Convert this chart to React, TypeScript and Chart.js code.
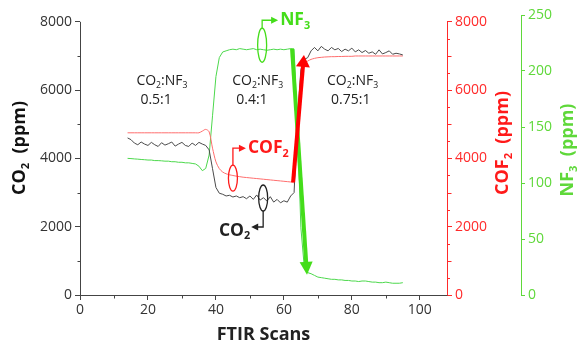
import React, { useEffect, useRef } from 'react';
import { Chart, registerables } from 'chart.js';

Chart.register(...registerables);

// ---------------- data ----------------
const scans = [
  14, 15, 16, 17, 18, 19, 20, 21, 22, 23, 24, 25, 26, 27, 28, 29, 30, 31, 32, 33,
  34, 35, 36, 37, 38, 39, 40, 41, 42, 43, 44, 45, 46, 47, 48, 49, 50, 51, 52, 53,
  54, 55, 56, 57, 58, 59, 60, 61, 62, 63, 64, 65, 66, 67, 68, 69, 70, 71, 72, 73,
  74, 75, 76, 77, 78, 79, 80, 81, 82, 83, 84, 85, 86, 87, 88, 89, 90, 91, 92, 93,
  94, 95,
];

const co2Ppm = [
  4600, 4550, 4450, 4400, 4480, 4420, 4380, 4470, 4400, 4350, 4460, 4390, 4430, 4480, 4360, 4420, 4470, 4380, 4350, 4450,
  4380, 4470, 4420, 4380, 4250, 3700, 3150, 2980, 2950, 2900, 2920, 2870, 2900, 2850, 2880, 2820, 2900, 2800, 2930, 2780,
  2850, 2750, 2880, 2720, 2800, 2700, 2760, 2720, 2900, 3000, 5200, 6600, 6900, 6950, 7150, 7250, 7150, 7280, 7200, 7150,
  7250, 7180, 7220, 7130, 7200, 7150, 7230, 7120, 7180, 7100, 7160, 7080, 7120, 7050, 7180, 7060, 7100, 7150, 7050, 7080,
  7060, 7030,
];

const cof2Ppm = [
  4750, 4750, 4750, 4750, 4750, 4750, 4750, 4750, 4750, 4750, 4750, 4750, 4750, 4750, 4750, 4750, 4750, 4750, 4750, 4750,
  4750, 4750, 4800, 4850, 4780, 4300, 3900, 3700, 3600, 3550, 3520, 3500, 3480, 3465, 3450, 3440, 3430, 3420, 3410, 3400,
  3390, 3380, 3370, 3360, 3350, 3340, 3330, 3320, 3310, 3300, 4800, 6200, 6750, 6850, 6900, 6930, 6950, 6960, 6970, 6975,
  6980, 6980, 6985, 6985, 6990, 6990, 6990, 7000, 7000, 7000, 7000, 7000, 7000, 7000, 7000, 7000, 7000, 7000, 7000, 7000,
  7000, 7000,
];

const nf3Ppm = [
  122, 121.8, 121.5, 121.3, 121, 120.8, 120.5, 120.5, 120, 120, 119.8, 119.5, 119.5, 119, 119, 118.5, 118.5, 118, 118, 117.5,
  117, 115, 111, 113, 125, 160, 195, 212, 217, 218, 219, 219.5, 219, 220, 219.5, 219, 219.5, 220, 219, 219.5,
  219, 218.5, 219, 219.5, 219, 219.5, 219, 219.5, 220, 219.5, 150, 60, 25, 20, 19, 17.5, 16, 15.5, 15, 14.5,
  14, 14, 13.5, 13.5, 13, 13, 12.5, 12.5, 12, 12.5, 12.5, 12, 11.5, 11.5, 11, 11, 11.5, 11, 10.5, 10.5,
  10.5, 11,
];

const xTicks = [0, 20, 40, 60, 80, 100];
const xMinorTicks = [10, 30, 50, 70, 90];
const leftTicks = [0, 2000, 4000, 6000, 8000];
const leftMinorTicks = [1000, 3000, 5000, 7000];
const redTicks = [0, 2000, 4000, 6000, 8000];
const redMidTicks = [1000, 3000, 5000, 7000];
const redMinorTicks = [500, 1500, 2500, 3500, 4500, 5500, 6500, 7500];
const greenTicks = [0, 50, 100, 150, 200, 250];

const ratioLabels = ['0.5:1', '0.4:1', '0.75:1'];
const ratioScans = [16.6, 44.8, 72.7];
const ratioPpm = 6000;

// ---------------- styles ----------------
const FONT = "'Open Sans', 'DejaVu Sans', sans-serif";
const AXIS_DARK = '#444444';
const TEXT_DARK = '#333333';
const RED = '#ff2a2a';
const RED_LINE = '#ff6e6e';
const GREEN = '#5fd83a';
const GREEN_LINE = '#4cd84c';
const GREEN_ARROW = '#44dd1a';

type Part = { t: string; sub?: boolean };

function richWidth(ctx: CanvasRenderingContext2D, parts: Part[], size: number, weight: string) {
  let w = 0;
  for (const p of parts) {
    const s = p.sub ? size * 0.62 : size;
    ctx.font = `${weight} ${s}px ${FONT}`;
    w += ctx.measureText(p.t).width;
  }
  return w;
}

function drawRich(
  ctx: CanvasRenderingContext2D,
  parts: Part[],
  x: number,
  y: number,
  size: number,
  weight: string,
  color: string,
  align: 'left' | 'center' | 'right'
) {
  const w = richWidth(ctx, parts, size, weight);
  let cx = align === 'left' ? x : align === 'center' ? x - w / 2 : x - w;
  ctx.fillStyle = color;
  ctx.textAlign = 'left';
  ctx.textBaseline = 'middle';
  for (const p of parts) {
    const s = p.sub ? size * 0.62 : size;
    ctx.font = `${weight} ${s}px ${FONT}`;
    ctx.fillText(p.t, cx, p.sub ? y + size * 0.3 : y);
    cx += ctx.measureText(p.t).width;
  }
}

function drawArrow(
  ctx: CanvasRenderingContext2D,
  x1: number,
  y1: number,
  x2: number,
  y2: number,
  color: string,
  width: number,
  headLen: number,
  headW: number
) {
  const dx = x2 - x1;
  const dy = y2 - y1;
  const len = Math.hypot(dx, dy);
  const ux = dx / len;
  const uy = dy / len;
  const bx = x2 - ux * headLen;
  const by = y2 - uy * headLen;
  ctx.strokeStyle = color;
  ctx.lineWidth = width;
  ctx.lineCap = 'butt';
  ctx.beginPath();
  ctx.moveTo(x1, y1);
  ctx.lineTo(bx + ux * 1, by + uy * 1);
  ctx.stroke();
  ctx.fillStyle = color;
  ctx.beginPath();
  ctx.moveTo(x2, y2);
  ctx.lineTo(bx - uy * headW / 2, by + ux * headW / 2);
  ctx.lineTo(bx + uy * headW / 2, by - ux * headW / 2);
  ctx.closePath();
  ctx.fill();
}

const decorPlugin = {
  id: 'decor',
  afterDraw(chart: any) {
    const ctx: CanvasRenderingContext2D = chart.ctx;
    const sx = chart.scales.x;
    const sy = chart.scales.y;
    const sr = chart.scales.yRed;
    const sg = chart.scales.yGreen;
    ctx.save();

    // axis lines for left and red axes (0 .. 8000)
    const lx = Math.round(sy.right) + 0.5;
    ctx.lineWidth = 1;
    ctx.strokeStyle = AXIS_DARK;
    ctx.beginPath();
    ctx.moveTo(lx, sy.getPixelForValue(0) + 0.5);
    ctx.lineTo(lx, sy.getPixelForValue(8000));
    ctx.stroke();
    const rx = Math.round(sr.left) + 0.5;
    ctx.strokeStyle = RED;
    ctx.beginPath();
    ctx.moveTo(rx, sr.getPixelForValue(0) + 0.5);
    ctx.lineTo(rx, sr.getPixelForValue(8000));
    ctx.stroke();

    // minor ticks
    ctx.strokeStyle = AXIS_DARK;
    for (const v of leftMinorTicks) {
      const py = Math.round(sy.getPixelForValue(v)) + 0.5;
      ctx.beginPath();
      ctx.moveTo(lx - 3, py);
      ctx.lineTo(lx, py);
      ctx.stroke();
    }
    const bottomY = Math.round(sx.top) + 0.5;
    for (const v of xMinorTicks) {
      const px = Math.round(sx.getPixelForValue(v)) + 0.5;
      ctx.beginPath();
      ctx.moveTo(px, bottomY);
      ctx.lineTo(px, bottomY + 3);
      ctx.stroke();
    }
    ctx.strokeStyle = RED;
    for (const v of redMidTicks) {
      const py = Math.round(sr.getPixelForValue(v)) + 0.5;
      ctx.beginPath();
      ctx.moveTo(rx, py);
      ctx.lineTo(rx + 4, py);
      ctx.stroke();
    }
    for (const v of redMinorTicks) {
      const py = Math.round(sr.getPixelForValue(v)) + 0.5;
      ctx.beginPath();
      ctx.moveTo(rx, py);
      ctx.lineTo(rx + 2.5, py);
      ctx.stroke();
    }

    // ratio labels
    ratioLabels.forEach((r, i) => {
      const px = sx.getPixelForValue(ratioScans[i]);
      const py = sy.getPixelForValue(ratioPpm);
      drawRich(ctx, [{ t: 'CO' }, { t: '2', sub: true }, { t: ':NF' }, { t: '3', sub: true }], px, py - 9, 14, 'normal', '#222222', 'left');
      drawRich(ctx, [{ t: r }], px + 4, py + 10, 14, 'normal', '#222222', 'left');
    });

    // big arrows (data anchored)
    drawArrow(
      ctx,
      sx.getPixelForValue(62.4), sg.getPixelForValue(220),
      sx.getPixelForValue(66.8), sg.getPixelForValue(18),
      GREEN_ARROW, 4, 13, 13
    );
    drawArrow(
      ctx,
      sx.getPixelForValue(62.7), sr.getPixelForValue(3300),
      sx.getPixelForValue(65.9), sr.getPixelForValue(7030),
      '#ff0000', 4, 12, 14
    );

    // callouts
    const callout = (
      cx: number, cy: number, ry: number, color: string, dir: 'up' | 'down',
      legV: number, legH: number, parts: Part[]
    ) => {
      ctx.strokeStyle = color;
      ctx.lineWidth = 1.3;
      ctx.beginPath();
      ctx.ellipse(cx, cy, 4.5, ry, 0, 0, Math.PI * 2);
      ctx.stroke();
      const sy0 = dir === 'up' ? cy - ry : cy + ry;
      const sy1 = dir === 'up' ? sy0 - legV : sy0 + legV;
      const ex = cx + legH;
      ctx.beginPath();
      ctx.moveTo(cx, sy0);
      ctx.lineTo(cx, sy1);
      ctx.lineTo(ex - Math.sign(legH) * 5, sy1);
      ctx.stroke();
      ctx.fillStyle = color;
      ctx.beginPath();
      ctx.moveTo(ex, sy1);
      ctx.lineTo(ex - Math.sign(legH) * 7, sy1 - 3.5);
      ctx.lineTo(ex - Math.sign(legH) * 7, sy1 + 3.5);
      ctx.closePath();
      ctx.fill();
      if (legH > 0) {
        drawRich(ctx, parts, ex + 2, sy1, 17.5, 'bold', color, 'left');
      } else {
        drawRich(ctx, parts, ex - 1, sy1 + 4, 17.5, 'bold', color, 'right');
      }
    };
    callout(sx.getPixelForValue(53.6), sg.getPixelForValue(223), 17, GREEN_ARROW, 'up', 8, 16,
      [{ t: 'NF' }, { t: '3', sub: true }]);
    callout(sx.getPixelForValue(45.0), sr.getPixelForValue(3420), 13, '#ff1a1a', 'up', 17, 13,
      [{ t: 'COF' }, { t: '2', sub: true }]);
    callout(sx.getPixelForValue(53.9), sy.getPixelForValue(2840), 13, '#222222', 'down', 16, -12,
      [{ t: 'CO' }, { t: '2', sub: true }]);

    // axis titles
    const rot = (cx: number, cy: number, parts: Part[], color: string) => {
      ctx.save();
      ctx.translate(cx, cy);
      ctx.rotate(-Math.PI / 2);
      drawRich(ctx, parts, 0, 0, 18, 'bold', color, 'center');
      ctx.restore();
    };
    rot(20, 148, [{ t: 'CO' }, { t: '2', sub: true }, { t: '  (ppm)' }], '#111111');
    rot(503, 143, [{ t: 'COF' }, { t: '2', sub: true }, { t: '  (ppm)' }], '#ff1a1a');
    rot(568, 150, [{ t: 'NF' }, { t: '3', sub: true }, { t: '  (ppm)' }], GREEN);
    drawRich(ctx, [{ t: 'FTIR Scans' }], 263.5, 335, 18, 'bold', '#222222', 'center');

    ctx.restore();
  },
};

const plain = (v: any) => String(v);

export default function App() {
  const canvasRef = useRef<HTMLCanvasElement | null>(null);

  useEffect(() => {
    if (!canvasRef.current) return;
    const tickFont = { family: FONT, size: 14 };
    const chart = new Chart(canvasRef.current, {
      type: 'line',
      data: {
        datasets: [
          {
            label: 'CO2',
            data: scans.map((x, i) => ({ x, y: co2Ppm[i] })),
            yAxisID: 'y',
            borderColor: '#4a4a4a',
            borderWidth: 1,
            pointRadius: 0,
            tension: 0,
          },
          {
            label: 'COF2',
            data: scans.map((x, i) => ({ x, y: cof2Ppm[i] })),
            yAxisID: 'yRed',
            borderColor: RED_LINE,
            borderWidth: 1,
            pointRadius: 0,
            tension: 0.3,
          },
          {
            label: 'NF3',
            data: scans.map((x, i) => ({ x, y: nf3Ppm[i] })),
            yAxisID: 'yGreen',
            borderColor: GREEN_LINE,
            borderWidth: 1,
            pointRadius: 0,
            tension: 0,
          },
        ],
      },
      options: {
        animation: false,
        responsive: true,
        maintainAspectRatio: false,
        layout: { padding: { top: 15, left: 0, right: 0, bottom: 0 } },
        plugins: { legend: { display: false }, tooltip: { enabled: false } },
        scales: {
          x: {
            type: 'linear',
            position: 'bottom',
            min: 0,
            max: 108,
            afterFit: (s: any) => { s.height = 54; },
            afterBuildTicks: (s: any) => { s.ticks = xTicks.map((v) => ({ value: v })); },
            ticks: { color: TEXT_DARK, font: tickFont, padding: 2, autoSkip: false, maxRotation: 0, callback: plain },
            grid: { display: true, drawOnChartArea: false, drawTicks: true, tickLength: 5, tickColor: AXIS_DARK, color: AXIS_DARK },
            border: { display: true, color: AXIS_DARK, width: 1 },
          },
          y: {
            position: 'left',
            min: 0,
            max: 8200,
            afterFit: (s: any) => { s.width = 80; },
            afterBuildTicks: (s: any) => { s.ticks = leftTicks.map((v) => ({ value: v })); },
            ticks: { color: TEXT_DARK, font: tickFont, padding: 3, autoSkip: false, callback: plain },
            grid: { display: true, drawOnChartArea: false, drawTicks: true, tickLength: 5, tickColor: AXIS_DARK, color: AXIS_DARK },
            border: { display: false },
          },
          yRed: {
            position: 'right',
            weight: 0,
            min: 0,
            max: 8200,
            afterFit: (s: any) => { s.width = 74; },
            afterBuildTicks: (s: any) => { s.ticks = redTicks.map((v) => ({ value: v })); },
            ticks: { color: RED, font: tickFont, padding: 3, autoSkip: false, callback: plain },
            grid: { display: true, drawOnChartArea: false, drawTicks: true, tickLength: 5, tickColor: RED, color: RED },
            border: { display: false },
          },
          yGreen: {
            position: 'right',
            weight: 1,
            min: 0,
            max: 250,
            afterFit: (s: any) => { s.width = 56; },
            afterBuildTicks: (s: any) => { s.ticks = greenTicks.map((v) => ({ value: v })); },
            ticks: { color: GREEN, font: tickFont, padding: 3, autoSkip: false, callback: plain },
            grid: { display: true, drawOnChartArea: false, drawTicks: true, tickLength: 4, tickColor: GREEN, color: GREEN },
            border: { display: true, color: GREEN, width: 1 },
          },
        },
      },
      plugins: [decorPlugin],
    } as any);
    return () => chart.destroy();
  }, []);

  return (
    <div style={{ position: 'fixed', left: 0, top: 0, width: 577, height: 349, background: '#ffffff' }}>
      <canvas ref={canvasRef} />
    </div>
  );
}
